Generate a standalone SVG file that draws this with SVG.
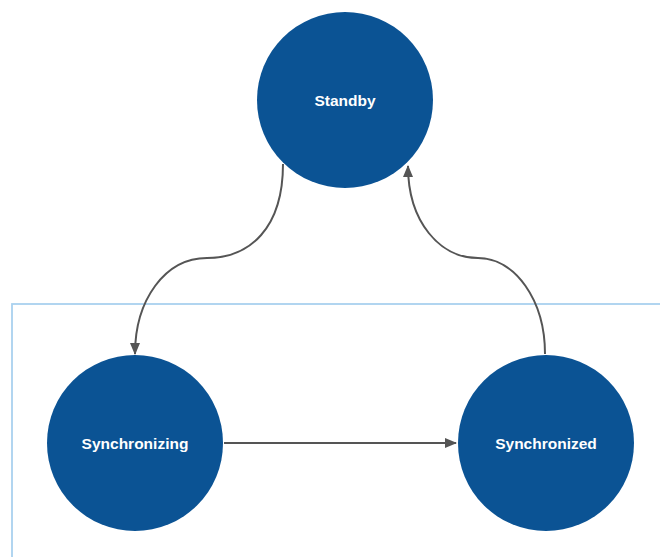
<svg xmlns="http://www.w3.org/2000/svg" width="660" height="557" viewBox="0 0 660 557">
  <style>
    .node circle { fill: #0b5394; }
    .node text { fill: #ffffff; font-family: "Liberation Sans", Arial, sans-serif; font-weight: bold; font-size: 15.5px; text-anchor: middle; }
    .edge { fill: none; stroke: #555555; stroke-width: 2; marker-end: url(#arrow); }
  </style>
  <defs>
    <marker id="arrow" viewBox="0 0 12 10" refX="11" refY="5" markerWidth="12" markerHeight="10" markerUnits="userSpaceOnUse" orient="auto">
      <path d="M0,0 L12,5 L0,10 Z" fill="#555555"/>
    </marker>
  </defs>
  <rect x="0" y="0" width="660" height="557" fill="#ffffff"/>
  <rect id="frame" x="12" y="304" width="700" height="300" fill="none" stroke="#a9d1ef" stroke-width="1.8"/>
  <g id="connectors">
    <path class="edge" d="M283,164 C283,228 250,258 207,258 C165,258 135,300 135,354"/>
    <path class="edge" d="M545,354 C545,300 515,258 478,258 C440,258 408,222 408,166"/>
    <path class="edge" d="M224,443 L456,443"/>
  </g>
  <g id="standby" class="node">
    <circle cx="345" cy="100" r="88"/>
    <text x="345" y="106">Standby</text>
  </g>
  <g id="synchronizing" class="node">
    <circle cx="135" cy="443" r="88"/>
    <text x="135" y="449">Synchronizing</text>
  </g>
  <g id="synchronized" class="node">
    <circle cx="546" cy="443" r="88"/>
    <text x="546" y="449">Synchronized</text>
  </g>
</svg>
